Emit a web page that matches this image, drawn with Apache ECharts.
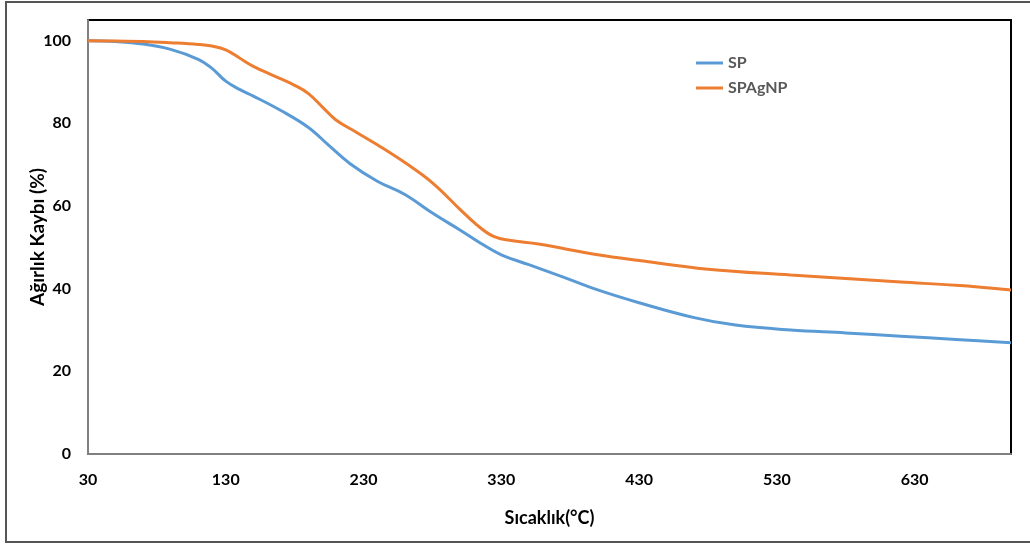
<!DOCTYPE html>
<html lang="tr">
<head>
  <meta charset="UTF-8">
  <title>TGA - SP / SPAgNP</title>
  <script src="https://cdn.jsdelivr.net/npm/echarts@6/dist/echarts.min.js"></script>
  <style>
    html, body { margin: 0; padding: 0; background: #fff; }
    #chart { width: 1030px; height: 545px; }
  </style>
</head>
<body>
<div id="chart"></div>
<script>
  // values
  const seriesNames = ["SP", "SPAgNP"];
  const spTemps = [30, 50, 70, 90, 110, 120, 130, 140, 150, 170, 190, 205, 220, 240, 260, 280, 300, 315, 330, 350, 375, 400, 430, 470, 500, 540, 580, 620, 660, 700];
  const spValues = [100, 99.8, 99.2, 97.9, 95.5, 93.3, 90.2, 88.2, 86.6, 83.1, 79.0, 74.6, 70.3, 66.0, 62.8, 58.3, 54.2, 51.0, 48.2, 45.8, 42.8, 39.7, 36.6, 33.0, 31.2, 30.0, 29.3, 28.5, 27.7, 26.9];
  const agTemps = [30, 50, 70, 90, 110, 120, 130, 140, 150, 165, 180, 190, 200, 210, 225, 240, 260, 280, 300, 312, 324, 336, 357, 400, 430, 480, 540, 620, 660, 700];
  const agValues = [100, 99.9, 99.8, 99.5, 99.1, 98.7, 97.8, 95.8, 93.8, 91.5, 89.2, 87.2, 84.0, 80.8, 77.8, 74.8, 70.5, 65.6, 59.2, 55.5, 52.7, 51.7, 50.8, 48.2, 46.8, 44.7, 43.3, 41.6, 40.8, 39.7];
  const colors = ["#5B9BD5", "#ED7D31"];

  const pairs = (xs, ys) => xs.map((x, i) => [x, ys[i]]);
  const font = "Lato, 'Open Sans', sans-serif";

  const chart = echarts.init(document.getElementById("chart"));
  chart.setOption({
    animation: false,
    color: colors,
    textStyle: { fontFamily: font },
    grid: { left: 88, right: 19, top: 20, bottom: 91, show: true, borderColor: "#000", borderWidth: 2 },
    legend: {
      orient: "vertical", left: 691, top: 50, itemWidth: 27, itemHeight: 3, itemGap: 9,
      icon: "rect",
      textStyle: { color: "#595959", fontSize: 16, fontWeight: "bold", fontFamily: font },
      data: seriesNames
    },
    xAxis: {
      type: "value", min: 30, max: 700, interval: 100,
      name: "Sıcaklık(°C)", nameLocation: "middle", nameGap: 55, nameMoveOverlap: false,
      nameTextStyle: { color: "#000", fontSize: 18, fontWeight: "bold" },
      axisLine: { lineStyle: { color: "#808080", width: 2 } },
      axisTick: { show: false }, splitLine: { show: false },
      axisLabel: { color: "#000", fontSize: 16, fontWeight: "bold", margin: 18, showMaxLabel: false }
    },
    yAxis: {
      type: "value", min: 0, max: 105, interval: 20,
      name: "Ağırlık Kaybı (%)", nameLocation: "middle", nameGap: 41, nameMoveOverlap: false,
      nameTextStyle: { color: "#000", fontSize: 19, fontWeight: "bold" },
      axisLine: { show: true, lineStyle: { color: "#808080", width: 2 } },
      axisTick: { show: false }, splitLine: { show: false },
      axisLabel: { color: "#000", fontSize: 16, fontWeight: "bold", margin: 17, showMaxLabel: false }
    },
    graphic: [{
      type: "rect", shape: { x: 6, y: 2, width: 1040, height: 540 },
      style: { fill: "none", stroke: "#555", lineWidth: 2 }, silent: true
    }],
    series: [
      { name: seriesNames[0], type: "line", smooth: 0.4, showSymbol: false,
        lineStyle: { width: 3 }, data: pairs(spTemps, spValues) },
      { name: seriesNames[1], type: "line", smooth: 0.4, showSymbol: false,
        lineStyle: { width: 3 }, data: pairs(agTemps, agValues) }
    ]
  });
</script>
</body>
</html>
